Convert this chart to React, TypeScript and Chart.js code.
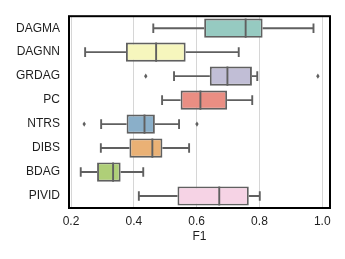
import React, { useEffect, useRef } from "react";
import { Chart, registerables } from "chart.js";

Chart.register(...registerables);

const categories = ["DAGMA", "DAGNN", "GRDAG", "PC", "NTRS", "DIBS", "BDAG", "PIVID"];
const whiskerLow = [0.462, 0.245, 0.528, 0.49, 0.296, 0.295, 0.231, 0.416];
const q1 = [0.624, 0.375, 0.642, 0.549, 0.377, 0.386, 0.283, 0.539];
const median = [0.756, 0.471, 0.698, 0.612, 0.434, 0.459, 0.334, 0.672];
const q3 = [0.81, 0.565, 0.776, 0.697, 0.467, 0.491, 0.358, 0.766];
const whiskerHigh = [0.972, 0.734, 0.793, 0.777, 0.544, 0.576, 0.43, 0.801];
const outliers: number[][] = [[], [], [0.438, 0.986], [], [0.242, 0.601], [], [], []];
const xTicks = [0.2, 0.4, 0.6, 0.8, 1.0];

const boxColors = ["#96cac1", "#f6f6bd", "#c1bed6", "#ea8e83", "#8aafc9", "#eab175", "#afcf78", "#f6d3e5"];
const LINE = "#606060";
const FONT = "'Liberation Sans', Arial, sans-serif";
const TEXT = "#1e1e1e";
const LW = 1.9;

const boxExtras = {
  id: "boxExtras",
  afterDatasetsDraw(chart: any) {
    const { ctx } = chart;
    const x = chart.scales.x;
    const y = chart.scales.y;
    const rowH = Math.abs(y.getPixelForValue(1) - y.getPixelForValue(0));
    const boxH = rowH * 0.8;
    ctx.save();
    ctx.strokeStyle = LINE;
    ctx.fillStyle = LINE;
    ctx.lineWidth = LW;
    ctx.lineCap = "butt";
    categories.forEach((_, i) => {
      const yc = y.getPixelForValue(i);
      const cap = boxH / 4;
      const xl = x.getPixelForValue(whiskerLow[i]);
      const xq1 = x.getPixelForValue(q1[i]);
      const xm = x.getPixelForValue(median[i]);
      const xq3 = x.getPixelForValue(q3[i]);
      const xh = x.getPixelForValue(whiskerHigh[i]);
      ctx.beginPath();
      ctx.moveTo(xl, yc);
      ctx.lineTo(xq1, yc);
      ctx.moveTo(xq3, yc);
      ctx.lineTo(xh, yc);
      ctx.moveTo(xl, yc - cap);
      ctx.lineTo(xl, yc + cap);
      ctx.moveTo(xh, yc - cap);
      ctx.lineTo(xh, yc + cap);
      ctx.moveTo(xm, yc - boxH / 2);
      ctx.lineTo(xm, yc + boxH / 2);
      ctx.stroke();
      outliers[i].forEach((v) => {
        const px = x.getPixelForValue(v);
        ctx.beginPath();
        ctx.moveTo(px, yc - 2.6);
        ctx.lineTo(px + 1.7, yc);
        ctx.lineTo(px, yc + 2.6);
        ctx.lineTo(px - 1.7, yc);
        ctx.closePath();
        ctx.fill();
      });
    });
    ctx.restore();
  },
  afterDraw(chart: any) {
    const { ctx, chartArea } = chart;
    ctx.save();
    ctx.strokeStyle = "#000000";
    ctx.lineWidth = 2;
    ctx.strokeRect(chartArea.left, chartArea.top, chartArea.right - chartArea.left, chartArea.bottom - chartArea.top);
    ctx.restore();
  },
};

export default function App() {
  const ref = useRef<HTMLCanvasElement | null>(null);
  useEffect(() => {
    if (!ref.current) return;
    const chart = new Chart(ref.current, {
      type: "bar",
      data: {
        labels: categories,
        datasets: [
          {
            data: categories.map((_, i) => [q1[i], q3[i]]) as any,
            backgroundColor: boxColors,
            borderColor: LINE,
            borderWidth: LW,
            borderSkipped: false,
            categoryPercentage: 0.8,
            barPercentage: 1,
          },
        ],
      },
      options: {
        indexAxis: "y",
        animation: false,
        responsive: true,
        maintainAspectRatio: false,
        layout: { padding: { left: 0, right: 15, top: 14, bottom: 0 } },
        plugins: { legend: { display: false }, tooltip: { enabled: false } },
        scales: {
          x: {
            type: "linear",
            min: 0.19363,
            max: 1.02457,
            afterBuildTicks: (scale: any) => {
              scale.ticks = xTicks.map((v) => ({ value: v }));
            },
            afterFit: (scale: any) => {
              scale.height = 51;
            },
            grid: { color: "#d6d6d6", lineWidth: 1, drawTicks: false },
            border: { display: false },
            ticks: {
              padding: 6,
              color: TEXT,
              font: { family: FONT, size: 12 },
              callback: (v: any) => Number(v).toFixed(1),
              maxRotation: 0,
            },
            title: {
              display: true,
              text: "F1",
              color: TEXT,
              font: { family: FONT, size: 12 },
              padding: { top: 0, bottom: 15 },
            },
          },
          y: {
            type: "category",
            offset: true,
            afterFit: (scale: any) => {
              scale.width = 69;
            },
            grid: { display: false, drawTicks: false },
            border: { display: false },
            ticks: {
              padding: 9,
              color: TEXT,
              font: { family: FONT, size: 12 },
            },
          },
        },
      },
      plugins: [boxExtras],
    });
    return () => chart.destroy();
  }, []);
  return (
    <div style={{ position: "fixed", left: 0, top: 0, width: 345, height: 259, background: "#fff" }}>
      <canvas ref={ref} />
    </div>
  );
}
